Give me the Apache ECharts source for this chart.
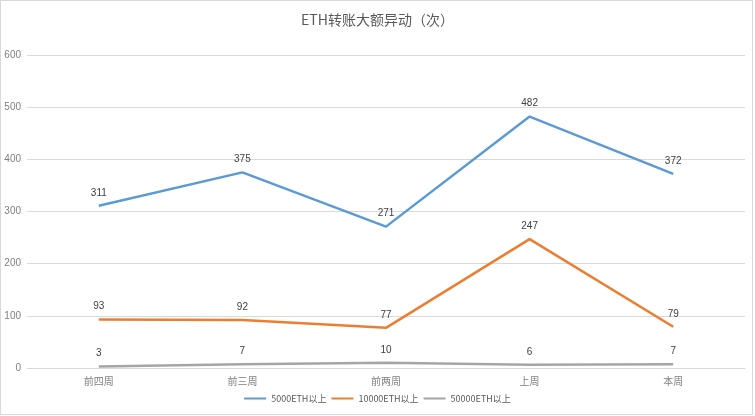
<!DOCTYPE html>
<html>
<head>
<meta charset="utf-8">
<script src="https://cdn.jsdelivr.net/npm/echarts@6/dist/echarts.min.js"></script>
<style>
html,body{margin:0;padding:0;background:#fff;}
#frame{position:absolute;left:0;top:0;width:751px;height:413px;border:1px solid #d9d9d9;}
#c{width:755px;height:416px;position:absolute;left:0;top:0;}
</style>
</head>
<body>
<div id="frame"></div>
<div id="c"></div>
<script>
const categories = ['前四周', '前三周', '前两周', '上周', '本周'];
const seriesNames = ['5000ETH以上', '10000ETH以上', '50000ETH以上'];
const s5000 = [311, 375, 271, 482, 372];
const s10000 = [93, 92, 77, 247, 79];
const s50000 = [3, 7, 10, 6, 7];
const yTicks = [0, 100, 200, 300, 400, 500, 600];

const colors = ['#5b9bd5', '#ed7d31', '#a5a5a5'];
const font = '"Noto Sans CJK SC", "Liberation Sans", sans-serif';
const chart = echarts.init(document.getElementById('c'));
function mk(name, data, color) {
  return {
    name: name, type: 'line', data: data, symbol: 'circle', symbolSize: 0, showSymbol: true,
    lineStyle: { color: color, width: 2.5 }, itemStyle: { color: color },
    label: { show: true, position: 'top', distance: 8, color: '#404040', fontSize: 10, fontFamily: '"Liberation Sans", sans-serif' },
    animation: false
  };
}
chart.setOption({
  animation: false,
  color: colors,
  title: {
    text: 'ETH转账大额异动（次）', left: 'center', top: 8,
    textStyle: { fontSize: 14, fontWeight: 'normal', color: '#595959', fontFamily: font }
  },
  legend: {
    bottom: 8, left: 'center', itemWidth: 22, itemHeight: 2, itemGap: 5,
    icon: 'rect',
    textStyle: { fontSize: 9, color: '#595959', fontFamily: font },
    data: seriesNames
  },
  grid: { left: 27, right: 10, top: 55, bottom: 48, containLabel: false },
  xAxis: {
    type: 'category', data: categories, boundaryGap: true,
    axisLine: { lineStyle: { color: '#d9d9d9' } },
    axisTick: { show: false },
    axisLabel: { color: '#7f7f7f', fontSize: 10, fontFamily: font, margin: 8 }
  },
  yAxis: {
    type: 'value', min: yTicks[0], max: yTicks[yTicks.length - 1], interval: 100,
    axisLine: { show: false }, axisTick: { show: false },
    splitLine: { lineStyle: { color: '#d9d9d9' } },
    axisLabel: { color: '#7f7f7f', fontSize: 10, fontFamily: '"Liberation Sans", sans-serif', margin: 6 }
  },
  series: [mk(seriesNames[0], s5000, colors[0]), mk(seriesNames[1], s10000, colors[1]), mk(seriesNames[2], s50000, colors[2])]
});
</script>
</body>
</html>
